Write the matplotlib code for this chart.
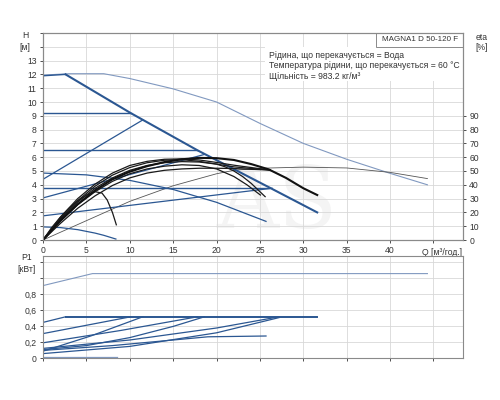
import matplotlib
matplotlib.use("Agg")
import matplotlib.pyplot as plt
from matplotlib.patches import Rectangle

plt.rcParams['font.family'] = ['Liberation Sans', 'DejaVu Sans']

# --- H(Q) curves, top panel ---
q_thin = [0, 3, 7, 10, 15, 20, 25, 30, 35, 40, 44.3]
h_thin = [11.95, 12.05, 12.05, 11.7, 10.95, 10.0, 8.45, 7.0, 5.85, 4.83, 4.0]

q_eta = [0, 5, 10, 15, 20, 22, 25, 30, 35, 40, 44.3]
h_eta = [0, 1.4, 2.8, 3.93, 4.8, 5.05, 5.2, 5.28, 5.22, 4.9, 4.45]

q_diag = [2.6, 10.1, 17.8, 26.1, 31.6]
h_diag = [12.0, 9.2, 6.5, 3.8, 2.0]

# constant pressure lines
cp_h0 = [11.9, 9.2, 6.5, 3.8]
cp_h1 = [12.0, 9.2, 6.5, 3.8]
cp_q1 = [2.6, 10.1, 17.8, 26.1]

# proportional pressure lines
pp_h0 = [4.4, 3.05, 1.75]
pp_q1 = [11.5, 18.6, 26.4]
pp_h1 = [8.7, 6.2, 3.75]

q_desc_a = [0, 5, 10, 15, 20, 25.7]
h_desc_a = [4.85, 4.72, 4.32, 3.66, 2.73, 1.35]
q_desc_b = [0, 2, 4, 6, 7, 8.4]
h_desc_b = [0.95, 0.9, 0.75, 0.5, 0.34, 0.07]

# black curves
q_k1 = [0, 2, 4, 6, 8, 10, 12, 14, 16, 18, 20, 22, 24, 26, 28, 30, 31.6]
h_k1 = [0, 1.4, 2.6, 3.6, 4.4, 4.95, 5.35, 5.65, 5.85, 5.95, 5.93, 5.8, 5.5, 5.12, 4.5, 3.75, 3.26]
q_k2 = [0, 2, 4, 6, 8, 10, 12, 14, 16, 18, 20, 22, 24, 26.2]
h_k2 = [0, 1.65, 3.0, 4.05, 4.85, 5.4, 5.7, 5.85, 5.88, 5.8, 5.62, 5.42, 5.25, 5.07]
h_k3 = [0, 1.55, 2.85, 3.9, 4.7, 5.25, 5.6, 5.78, 5.82, 5.7, 5.5, 5.3, 5.18, 5.07]
h_k6 = [0, 1.2, 2.3, 3.2, 3.95, 4.5, 4.85, 5.05, 5.15, 5.2, 5.2, 5.18, 5.12, 5.07]
q_k4 = [0, 2, 4, 6, 8, 10, 12, 14, 16, 18, 20, 21, 22, 23, 24, 25.6]
h_k4 = [0, 1.5, 2.75, 3.75, 4.5, 5.05, 5.4, 5.6, 5.68, 5.65, 5.5, 5.3, 5.0, 4.6, 4.1, 3.14]
q_k5 = [0, 2, 4, 6, 8, 10, 12, 14, 16, 18, 20, 22, 23.5, 25.05]
h_k5 = [0, 1.35, 2.55, 3.5, 4.25, 4.8, 5.15, 5.35, 5.45, 5.4, 5.15, 4.6, 4.0, 3.26]
q_k7 = [0, 1, 2, 3, 4, 5, 6, 6.8, 7.4, 8, 8.45]
h_k7 = [0, 0.9, 1.65, 2.3, 2.85, 3.25, 3.5, 3.4, 2.9, 2.0, 1.1]

# --- P1(Q) curves, bottom panel ---
q_p_thin = [0, 5.7, 44.3]
p_thin = [0.91, 1.06, 1.06]
q_p_max = [2.6, 31.6]
p_max = [0.52, 0.52]
p_lines_q = [
    [0, 2.6],
    [0, 10.1],
    [0, 5.5, 11.5],
    [0, 9, 17.8],
    [0, 5, 10, 15, 18.6],
    [0, 10, 20, 27.2],
    [0, 10, 20, 27.2],
    [0, 8, 14, 19, 25.7],
]
p_lines_p = [
    [0.45, 0.52],
    [0.31, 0.52],
    [0.09, 0.28, 0.52],
    [0.195, 0.35, 0.52],
    [0.11, 0.16, 0.26, 0.4, 0.52],
    [0.125, 0.23, 0.38, 0.52],
    [0.06, 0.15, 0.32, 0.51],
    [0.1, 0.16, 0.22, 0.27, 0.28],
]
q_p_min = [0, 8.5]
p_min = [0.02, 0.02]

blue = '#2b5792'
light = '#8199c0'
gridc = '#d8d8d8'
spinec = '#8a8a8a'
fs = 6.2

fig = plt.figure(figsize=(5, 4), dpi=100)
ax = fig.add_axes([0.086, 0.4, 0.84, 0.5175])
ax2 = ax.twinx()
axp = fig.add_axes([0.086, 0.104, 0.84, 0.256])

xmax = 48.4
ax.set_xlim(0, xmax)
ax.set_ylim(0, 15)
ax2.set_ylim(0, 150)
axp.set_xlim(0, xmax)
axp.set_ylim(0, 1.28)

# watermark
ax.text(27, 2.6, 'AS', fontsize=62, color='#f4f4f4', family='DejaVu Serif',
        ha='center', va='center', zorder=0.5)

ax.plot(q_thin, h_thin, color=light, lw=0.8, zorder=3)
ax.plot(q_eta, h_eta, color='#555555', lw=0.6, zorder=3)
for h0, h1, q1 in zip(cp_h0, cp_h1, cp_q1):
    ax.plot([0, q1], [h0, h1], color=blue, lw=1.0, zorder=3)
for h0, q1, h1 in zip(pp_h0, pp_q1, pp_h1):
    ax.plot([0, q1], [h0, h1], color=blue, lw=0.9, zorder=3)
ax.plot(q_desc_a, h_desc_a, color=blue, lw=0.9, zorder=3)
ax.plot(q_desc_b, h_desc_b, color=blue, lw=0.9, zorder=3)
ax.plot(q_diag, h_diag, color=blue, lw=1.5, zorder=3)

for qq, hh in [(q_k2, h_k2), (q_k2, h_k3), (q_k2, h_k6), (q_k4, h_k4),
               (q_k5, h_k5), (q_k7, h_k7)]:
    ax.plot(qq, hh, color='#1a1a1a', lw=0.9, zorder=4)
ax.plot(q_k1, h_k1, color='#111111', lw=1.5, zorder=4)

# text area
ax.add_patch(Rectangle((25.6, 11.5), xmax - 25.6, 2.5, facecolor='white',
                       edgecolor='none', zorder=2))
ax.add_patch(Rectangle((38.4, 14.0), xmax - 38.4, 1.0, facecolor='white',
                       edgecolor=spinec, lw=0.7, zorder=2))
ax.text(43.4, 14.5, 'MAGNA1 D 50-120 F', fontsize=5.8, ha='center',
        va='center', color='#333333', zorder=5)
info = ['Рідина, що перекачується = Вода',
        'Температура рідини, що перекачується = 60 °C',
        'Щільність = 983.2 кг/м³']
for i, line in enumerate(info):
    ax.text(26.0, 13.4 - i * 0.76, line, fontsize=fs, ha='left', va='center',
            color='#333333', zorder=5)

ax.set_xticks(range(0, 50, 5))
ax.set_xticklabels([str(v) for v in range(0, 45, 5)] + [''])
ax.text(43.7, -0.55, 'Q [м³/год.]', fontsize=fs, ha='left', va='top',
        color='#333333')
ax.set_yticks(range(0, 16))
ax.set_yticklabels([str(v) for v in range(0, 14)] + ['', ''])
ax2.set_yticks(range(0, 100, 10))
ax.grid(True, color=gridc, lw=0.6, zorder=0)
ax.set_axisbelow(True)

axp.set_xticks(range(0, 50, 5))
axp.set_xticklabels([])
axp.tick_params(axis='x', length=0)
axp.set_yticks([0, 0.2, 0.4, 0.6, 0.8, 1.0, 1.2])
axp.set_yticklabels(['0', '0,2', '0,4', '0,6', '0,8', '', ''])
axp.grid(True, color=gridc, lw=0.6, zorder=0)
axp.set_axisbelow(True)

axp.plot(q_p_thin, p_thin, color=light, lw=0.8)
for qq, pp in zip(p_lines_q, p_lines_p):
    axp.plot(qq, pp, color=blue, lw=0.9)
axp.plot(q_p_max, p_max, color=blue, lw=1.4)
axp.plot(q_p_min, p_min, color=light, lw=0.9)

for a in (ax, ax2, axp):
    for s in a.spines.values():
        s.set_color(spinec)
        s.set_linewidth(0.8)
    a.tick_params(labelsize=fs, colors='#333333', length=2.5, width=0.6,
                  pad=2)

fig.text(25 / 500, 1 - 36 / 400, 'H', fontsize=fs, ha='center', va='center', color='#333333')
fig.text(25 / 500, 1 - 47 / 400, '[м]', fontsize=fs, ha='center', va='center', color='#333333')
fig.text(482 / 500, 1 - 37 / 400, 'eta', fontsize=fs, ha='center', va='center', color='#333333')
fig.text(482 / 500, 1 - 47 / 400, '[%]', fontsize=fs, ha='center', va='center', color='#333333')
fig.text(27 / 500, 1 - 258 / 400, 'P1', fontsize=fs, ha='center', va='center', color='#333333')
fig.text(27 / 500, 1 - 270 / 400, '[кВт]', fontsize=fs, ha='center', va='center', color='#333333')

fig.savefig('out.png', dpi=100, facecolor='white')
